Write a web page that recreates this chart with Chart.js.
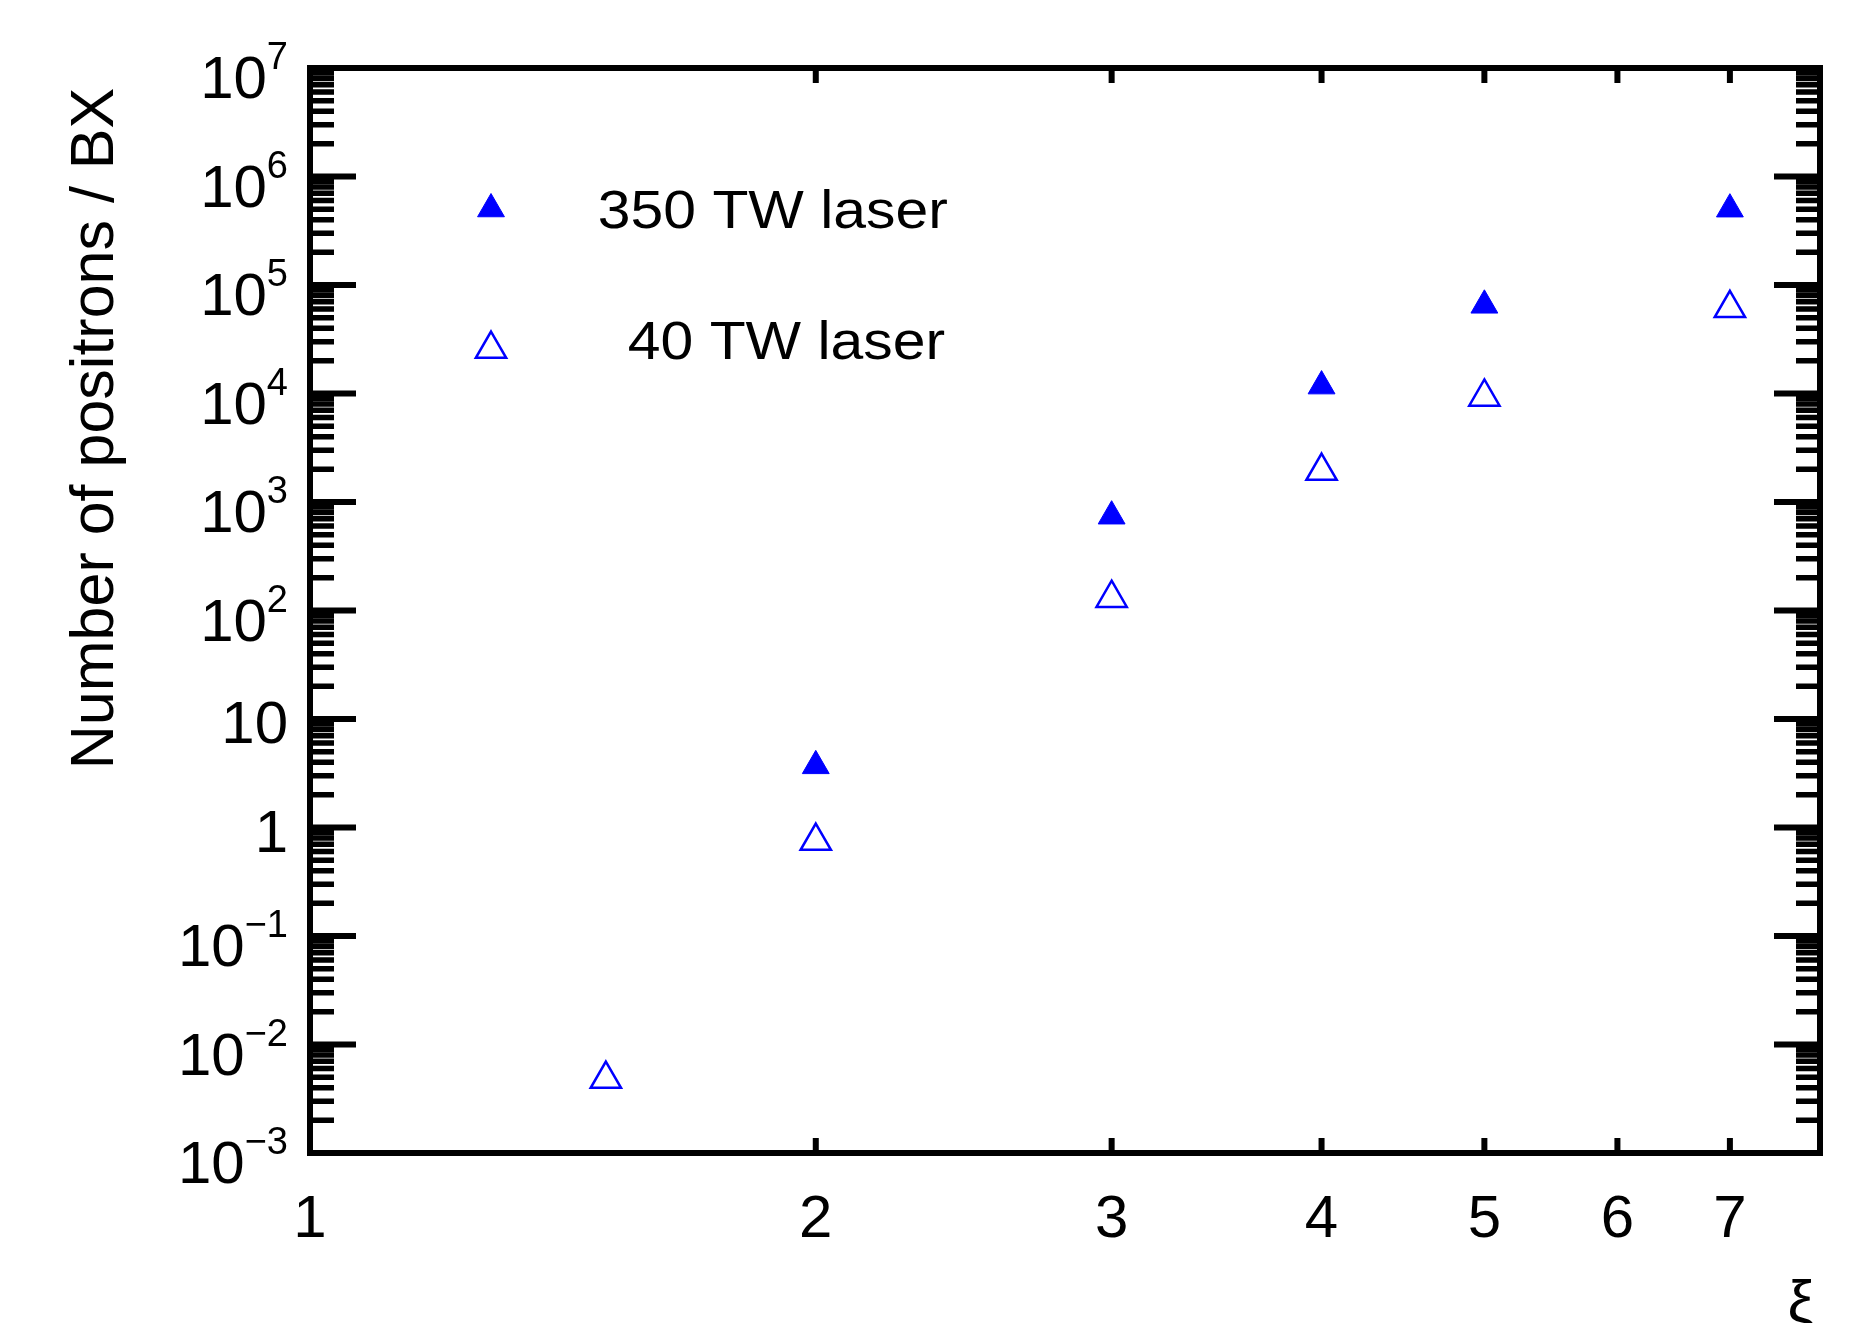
<!DOCTYPE html>
<html>
<head>
<meta charset="utf-8">
<script src="https://cdn.jsdelivr.net/npm/chart.js@4.4.1/dist/chart.umd.min.js"></script>
<style>
  html, body { margin: 0; padding: 0; background: #fff; }
  #wrap { width: 1870px; height: 1323px; }
</style>
</head>
<body>
<div id="wrap"><canvas id="myChart" width="1870" height="1323"></canvas></div>
<script>
// data
const xi350 = [2, 3, 4, 5, 7];
const n350 = [3.7, 740, 11700, 65000, 500000];
const xi40 = [1.5, 2, 3, 4, 5, 7];
const n40 = [0.0048, 0.75, 130, 1930, 9300, 61000];

// axis ticks
const xTickValues = [1, 2, 3, 4, 5, 6, 7];
const yDecades = [-3, -2, -1, 0, 1, 2, 3, 4, 5, 6, 7];
const yMinorMantissas = [2, 3, 4, 5, 6, 7, 8, 9];

const seriesLabels = ["350 TW laser", "40 TW laser"];
const yTitle = "Number of positrons / BX";
const xTitle = "\u03be";

const FONT = '"Liberation Sans", Arial, Helvetica, sans-serif';
const BLUE = "#0000ff";

/**
 * Builds scatter points from two arrays.
 * @param {number[]} xs
 * @param {number[]} ys
 */
function toPoints(xs, ys) {
  return xs.map((x, i) => ({ x: x, y: ys[i] }));
}

// frame, ticks, labels and legend are drawn here with the chart's scales
const framePlugin = {
  id: "frame",
  afterDatasetsDraw(chart) {
    const ctx = chart.ctx;
    const area = chart.chartArea;
    const xScale = chart.scales.x;
    const yScale = chart.scales.y;

    ctx.save();
    ctx.strokeStyle = "#000";
    ctx.lineCap = "butt";

    // y ticks, both sides, pointing inward
    yDecades.forEach((e) => {
      const py = yScale.getPixelForValue(Math.pow(10, e));
      ctx.lineWidth = 6;
      ctx.beginPath();
      ctx.moveTo(area.left, py);
      ctx.lineTo(area.left + 46, py);
      ctx.moveTo(area.right, py);
      ctx.lineTo(area.right - 46, py);
      ctx.stroke();
      if (e === yDecades[yDecades.length - 1]) return;
      ctx.lineWidth = 5.5;
      yMinorMantissas.forEach((m) => {
        const my = yScale.getPixelForValue(m * Math.pow(10, e));
        ctx.beginPath();
        ctx.moveTo(area.left, my);
        ctx.lineTo(area.left + 24, my);
        ctx.moveTo(area.right, my);
        ctx.lineTo(area.right - 24, my);
        ctx.stroke();
      });
    });

    // x ticks, top and bottom
    ctx.lineWidth = 6;
    xTickValues.forEach((v) => {
      if (v === xTickValues[0]) return;
      const px = xScale.getPixelForValue(v);
      ctx.beginPath();
      ctx.moveTo(px, area.bottom);
      ctx.lineTo(px, area.bottom - 15);
      ctx.moveTo(px, area.top);
      ctx.lineTo(px, area.top + 15);
      ctx.stroke();
    });

    // frame
    ctx.lineWidth = 6;
    ctx.lineJoin = "miter";
    ctx.strokeRect(area.left, area.top, area.right - area.left, area.bottom - area.top);

    // y tick labels
    ctx.fillStyle = "#000";
    const labelRight = area.left - 22;
    yDecades.forEach((e) => {
      const py = yScale.getPixelForValue(Math.pow(10, e));
      if (e === 0 || e === 1) {
        ctx.font = "60px " + FONT;
        ctx.textAlign = "right";
        ctx.textBaseline = "alphabetic";
        ctx.fillText(e === 0 ? "1" : "10", labelRight, py + 24);
        return;
      }
      const sup = e < 0 ? "\u2212" + Math.abs(e) : String(e);
      ctx.font = "38px " + FONT;
      const supW = ctx.measureText(sup).width;
      ctx.textAlign = "left";
      ctx.textBaseline = "alphabetic";
      ctx.fillText(sup, labelRight - supW, py + 1);
      ctx.font = "60px " + FONT;
      ctx.textAlign = "right";
      ctx.fillText("10", labelRight - supW, py + 30);
    });

    // x tick labels
    ctx.font = "60px " + FONT;
    ctx.textAlign = "center";
    ctx.textBaseline = "alphabetic";
    xTickValues.forEach((v) => {
      ctx.fillText(String(v), xScale.getPixelForValue(v), area.bottom + 84);
    });

    // axis titles
    ctx.font = "60px " + FONT;
    ctx.fillText(xTitle, 1801, 1322);

    ctx.save();
    ctx.translate(113, (area.top + area.bottom) / 2 - 182);
    ctx.rotate(-Math.PI / 2);
    ctx.font = "61px " + FONT;
    ctx.textAlign = "center";
    ctx.fillText(yTitle, 0, 0);
    ctx.restore();

    // legend inside the plot
    const legendRows = [
      { y: 209, textX: 600, baseY: 228 },
      { y: 349, textX: 630, baseY: 359 },
    ];
    chart.data.datasets.forEach((ds, i) => {
      const row = legendRows[i];
      const r = ds.pointRadius;
      const s = Math.sin(Math.PI / 3) * r;
      ctx.fillStyle = ds.backgroundColor;
      ctx.strokeStyle = ds.borderColor;
      ctx.lineWidth = ds.borderWidth;
      ctx.beginPath();
      ctx.moveTo(491, row.y - r);
      ctx.lineTo(491 + s, row.y + r / 2);
      ctx.lineTo(491 - s, row.y + r / 2);
      ctx.closePath();
      ctx.fill();
      ctx.stroke();

      ctx.save();
      ctx.fillStyle = "#000";
      ctx.font = "54px " + FONT;
      ctx.textAlign = "left";
      ctx.translate(row.textX, row.baseY);
      ctx.scale(1.09, 1);
      ctx.fillText(ds.label, -2, 0);
      ctx.restore();
    });

    ctx.restore();
  },
};

const hiddenScale = {
  type: "logarithmic",
  ticks: { display: false },
  grid: { display: false, drawTicks: false },
  border: { display: false },
  title: { display: false },
  afterFit(scale) {
    if (scale.isHorizontal()) scale.height = 0;
    else scale.width = 0;
  },
};

const chart = new Chart(document.getElementById("myChart"), {
  type: "scatter",
  data: {
    datasets: [
      {
        label: seriesLabels[0],
        data: toPoints(xi350, n350),
        pointStyle: "triangle",
        pointRadius: 15.5,
        pointHoverRadius: 15.5,
        backgroundColor: BLUE,
        borderColor: BLUE,
        borderWidth: 1,
      },
      {
        label: seriesLabels[1],
        data: toPoints(xi40, n40),
        pointStyle: "triangle",
        pointRadius: 17.5,
        pointHoverRadius: 17.5,
        backgroundColor: "rgba(0,0,0,0)",
        borderColor: BLUE,
        borderWidth: 2.5,
      },
    ],
  },
  options: {
    responsive: false,
    animation: false,
    devicePixelRatio: 1,
    layout: { padding: { left: 310, right: 50, top: 68, bottom: 170 } },
    plugins: {
      legend: { display: false },
      tooltip: { enabled: false },
    },
    scales: {
      x: Object.assign({}, hiddenScale, { min: 1, max: 7.92 }),
      y: Object.assign({}, hiddenScale, { min: 1e-3, max: 1e7 }),
    },
  },
  plugins: [framePlugin],
});
</script>
</body>
</html>
